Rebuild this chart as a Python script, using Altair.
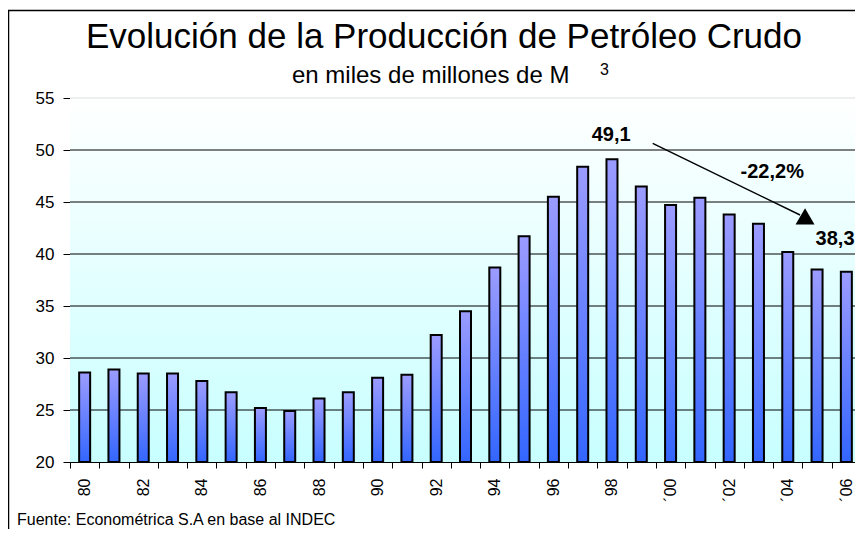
import altair as alt
import pandas as pd

# ---- data ----
years = list(range(1980, 2007))
production = [28.6, 28.9, 28.5, 28.5, 27.8, 26.7, 25.2, 24.9, 26.1, 26.7,
              28.1, 28.4, 32.2, 34.5, 38.7, 41.7, 45.5, 48.4, 49.1, 46.5,
              44.7, 45.4, 43.8, 42.9, 40.2, 38.5, 38.3]
y_ticks = [20, 25, 30, 35, 40, 45, 50, 55]
grid_values = [25, 30, 35, 40, 45, 50]
top_line = [55]

title_text = "Evolución de la Producción de Petróleo Crudo"
subtitle_text = "en miles de millones de M"
superscript_text = "3"
source_text = "Fuente: Econométrica S.A en base al INDEC"

# annotations (data coordinates: year, value)
center_labels = ["49,1", "-22,2%"]
center_x = [1997.97, 2003.47]
center_y = [51.41, 47.93]
left_labels = ["38,3"]
left_x = [2004.95]
left_y = [41.47]
arrow_x1, arrow_y1 = [1999.39], [50.64]
arrow_x2, arrow_y2 = [2004.42], [43.75]
head_x, head_y = [2004.59], [43.62]

W, H = 791, 364
FONT = "Liberation Sans"

df = pd.DataFrame({"year": years, "value": production})
one = pd.DataFrame({"k": [0]})

yscale = alt.Scale(domain=[20, 55], nice=False, zero=False)
xq = alt.Scale(domain=[1979.5, 2006.5], nice=False, zero=False)

bg_grad = {"gradient": "linear", "x1": 0, "x2": 0, "y1": 0, "y2": 1,
           "stops": [{"offset": 0, "color": "#ffffff"},
                     {"offset": 1, "color": "#c8ffff"}]}
bar_grad = {"gradient": "linear", "x1": 0, "x2": 0, "y1": 0, "y2": 1,
            "stops": [{"offset": 0, "color": "#9c9cff"},
                      {"offset": 1, "color": "#3366ff"}]}

y_axis = alt.Axis(title=None, values=y_ticks, grid=False, tickSize=7,
                  tickColor="black", tickWidth=1, domainColor="black",
                  domainWidth=1, labelFontSize=17, labelFont=FONT,
                  labelColor="black", labelPadding=9)

label_expr = ("datum.value % 2 == 0 ? ((datum.value >= 2000 ? '\u00b4' : '') + "
              "substring(toString(datum.value), 2, 4)) : ''")

x_axis = alt.Axis(title=None, tickBand="extent", tickSize=6, tickColor="black",
                  tickWidth=1, domainColor="black", domainWidth=1,
                  labelAngle=270, labelFontSize=16, labelFont=FONT,
                  labelColor="black", labelPadding=10, labelOverlap=False,
                  labelExpr=label_expr, grid=False)

background = alt.Chart(one).mark_rect(fill=bg_grad).encode(
    x=alt.value(0), x2=alt.value(W), y=alt.value(0), y2=alt.value(H))

grid = alt.Chart(pd.DataFrame({"g": grid_values})).mark_rule(
    color="black", strokeWidth=1).encode(
    y=alt.Y("g:Q", scale=yscale, axis=y_axis), x=alt.value(0), x2=alt.value(W))

top = alt.Chart(pd.DataFrame({"g": top_line})).mark_rule(
    color="#dddddd", strokeWidth=1).encode(
    y=alt.Y("g:Q", scale=yscale, axis=y_axis), x=alt.value(0), x2=alt.value(W))

bars = alt.Chart(df).mark_bar(size=11, fill=bar_grad, stroke="black",
                              strokeWidth=2).encode(
    x=alt.X("year:O", scale=alt.Scale(paddingInner=0, paddingOuter=0), axis=x_axis),
    y=alt.Y("value:Q", scale=yscale, axis=y_axis),
    y2=alt.datum(20))

arrow = alt.Chart(pd.DataFrame({"x1": arrow_x1, "y1": arrow_y1,
                                "x2": arrow_x2, "y2": arrow_y2})).mark_rule(
    color="black", strokeWidth=1.5).encode(
    x=alt.X("x1:Q", scale=xq, axis=None),
    y=alt.Y("y1:Q", scale=yscale, axis=y_axis),
    x2="x2:Q", y2="y2:Q")

head = alt.Chart(pd.DataFrame({"x": head_x, "y": head_y})).mark_point(
    shape="triangle-up", size=360, filled=True, color="black", opacity=1).encode(
    x=alt.X("x:Q", scale=xq, axis=None),
    y=alt.Y("y:Q", scale=yscale, axis=y_axis))

ann_c = alt.Chart(pd.DataFrame({"label": center_labels, "x": center_x, "y": center_y})).mark_text(
    fontSize=20, fontWeight="bold", font=FONT, align="center", baseline="middle",
    color="black").encode(
    x=alt.X("x:Q", scale=xq, axis=None),
    y=alt.Y("y:Q", scale=yscale, axis=y_axis), text="label:N")

ann_l = alt.Chart(pd.DataFrame({"label": left_labels, "x": left_x, "y": left_y})).mark_text(
    fontSize=20, fontWeight="bold", font=FONT, align="left", baseline="middle",
    color="black").encode(
    x=alt.X("x:Q", scale=xq, axis=None),
    y=alt.Y("y:Q", scale=yscale, axis=y_axis), text="label:N")

title = alt.Chart(pd.DataFrame({"t": [title_text]})).mark_text(
    fontSize=35, font=FONT, align="left", baseline="alphabetic", color="black").encode(
    text="t:N", x=alt.value(16), y=alt.value(-50.3))

subtitle = alt.Chart(pd.DataFrame({"t": [subtitle_text]})).mark_text(
    fontSize=24, font=FONT, align="left", baseline="alphabetic", color="black").encode(
    text="t:N", x=alt.value(222), y=alt.value(-15.3))

sup = alt.Chart(pd.DataFrame({"t": [superscript_text]})).mark_text(
    fontSize=16, font=FONT, align="left", baseline="alphabetic", color="black").encode(
    text="t:N", x=alt.value(530), y=alt.value(-23))

source = alt.Chart(pd.DataFrame({"t": [source_text]})).mark_text(
    fontSize=16, font=FONT, align="left", baseline="alphabetic", color="black").encode(
    text="t:N", x=alt.value(-53), y=alt.value(426.5))

border = alt.Chart(one).mark_rect(filled=False, stroke="black", strokeWidth=1.5).encode(
    x=alt.value(-61.5), x2=alt.value(900), y=alt.value(-87.5), y2=alt.value(600))

chart = alt.layer(
    background, grid, top, bars, arrow, head, ann_c, ann_l,
    title, subtitle, sup, source, border
).resolve_scale(x="independent").properties(
    width=W, height=H,
    autosize=alt.AutoSizeParams(type="none"),
    padding={"left": 62, "top": 90, "right": -6, "bottom": 67},
).configure(background="white", font=FONT).configure_view(strokeWidth=0)

chart.save("out.html", embed_options={"renderer": "svg", "actions": False})
